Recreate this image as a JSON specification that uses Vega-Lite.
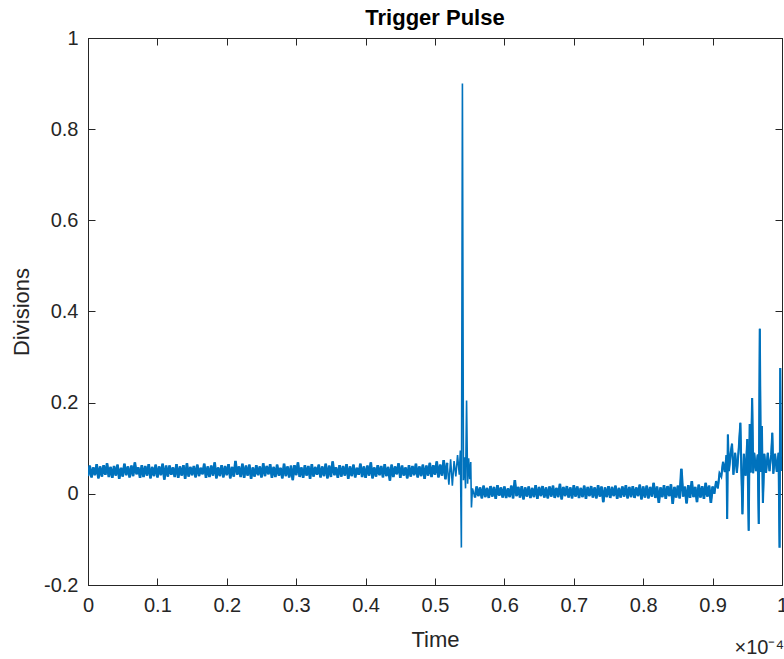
{
"$schema": "https://vega.github.io/schema/vega-lite/v6.json",
"width": 694, "height": 547,
"autosize": {"type": "none"},
"padding": {"left": 88, "top": 38, "right": 2, "bottom": 74},
"background": "white",
"config": {
  "font": "Liberation Sans",
  "view": {"stroke": "#262626", "strokeWidth": 1},
  "axis": {"grid": false, "domainColor": "#262626", "tickColor": "#262626", "labelColor": "#262626", "titleColor": "#262626", "labelFontSize": 20, "titleFontSize": 22, "titleFontWeight": "normal", "tickSize": -7, "labelFont": "Liberation Sans", "titleFont": "Liberation Sans"}
},
"title": {"text": "Trigger Pulse", "fontSize": 22, "fontWeight": "bold", "color": "#000000", "offset": -2, "font": "Liberation Sans"},
"data": {"values": [
{"t":0,"v":0.039},{"t":0.0025,"v":0.062},{"t":0.005,"v":0.036},{"t":0.0075,"v":0.058},{"t":0.01,"v":0.041},{"t":0.0125,"v":0.065},{"t":0.015,"v":0.034},{"t":0.0175,"v":0.06},{"t":0.02,"v":0.038},{"t":0.0225,"v":0.063},
{"t":0.025,"v":0.042},{"t":0.0275,"v":0.067},{"t":0.03,"v":0.037},{"t":0.0325,"v":0.059},{"t":0.035,"v":0.035},{"t":0.0375,"v":0.061},{"t":0.04,"v":0.04},{"t":0.0425,"v":0.064},{"t":0.045,"v":0.033},{"t":0.0475,"v":0.057},
{"t":0.05,"v":0.038},{"t":0.0525,"v":0.066},{"t":0.055,"v":0.041},{"t":0.0575,"v":0.06},{"t":0.06,"v":0.036},{"t":0.0625,"v":0.062},{"t":0.065,"v":0.039},{"t":0.0675,"v":0.069},{"t":0.07,"v":0.043},{"t":0.0725,"v":0.058},
{"t":0.075,"v":0.035},{"t":0.0775,"v":0.063},{"t":0.08,"v":0.037},{"t":0.0825,"v":0.061},{"t":0.085,"v":0.04},{"t":0.0875,"v":0.065},{"t":0.09,"v":0.034},{"t":0.0925,"v":0.059},{"t":0.095,"v":0.039},{"t":0.0975,"v":0.064},
{"t":0.1,"v":0.036},{"t":0.1025,"v":0.06},{"t":0.105,"v":0.041},{"t":0.1075,"v":0.066},{"t":0.11,"v":0.031},{"t":0.1125,"v":0.062},{"t":0.115,"v":0.038},{"t":0.1175,"v":0.062},{"t":0.12,"v":0.042},{"t":0.1225,"v":0.058},
{"t":0.125,"v":0.037},{"t":0.1275,"v":0.065},{"t":0.13,"v":0.035},{"t":0.1325,"v":0.06},{"t":0.135,"v":0.04},{"t":0.1375,"v":0.063},{"t":0.14,"v":0.033},{"t":0.1425,"v":0.067},{"t":0.145,"v":0.038},{"t":0.1475,"v":0.059},
{"t":0.15,"v":0.041},{"t":0.1525,"v":0.061},{"t":0.155,"v":0.036},{"t":0.1575,"v":0.064},{"t":0.16,"v":0.039},{"t":0.1625,"v":0.057},{"t":0.165,"v":0.043},{"t":0.1675,"v":0.066},{"t":0.17,"v":0.035},{"t":0.1725,"v":0.06},
{"t":0.175,"v":0.037},{"t":0.1775,"v":0.062},{"t":0.18,"v":0.04},{"t":0.1825,"v":0.069},{"t":0.185,"v":0.034},{"t":0.1875,"v":0.058},{"t":0.19,"v":0.039},{"t":0.1925,"v":0.063},{"t":0.195,"v":0.036},{"t":0.1975,"v":0.061},
{"t":0.2,"v":0.041},{"t":0.2025,"v":0.065},{"t":0.205,"v":0.034},{"t":0.2075,"v":0.059},{"t":0.21,"v":0.038},{"t":0.2125,"v":0.072},{"t":0.215,"v":0.042},{"t":0.2175,"v":0.06},{"t":0.22,"v":0.037},{"t":0.2225,"v":0.066},
{"t":0.225,"v":0.035},{"t":0.2275,"v":0.062},{"t":0.23,"v":0.04},{"t":0.2325,"v":0.064},{"t":0.235,"v":0.033},{"t":0.2375,"v":0.058},{"t":0.24,"v":0.038},{"t":0.2425,"v":0.063},{"t":0.245,"v":0.041},{"t":0.2475,"v":0.06},
{"t":0.25,"v":0.036},{"t":0.2525,"v":0.067},{"t":0.255,"v":0.039},{"t":0.2575,"v":0.061},{"t":0.26,"v":0.043},{"t":0.2625,"v":0.065},{"t":0.265,"v":0.035},{"t":0.2675,"v":0.059},{"t":0.27,"v":0.037},{"t":0.2725,"v":0.064},
{"t":0.275,"v":0.04},{"t":0.2775,"v":0.057},{"t":0.28,"v":0.034},{"t":0.2825,"v":0.066},{"t":0.285,"v":0.039},{"t":0.2875,"v":0.06},{"t":0.29,"v":0.036},{"t":0.2925,"v":0.062},{"t":0.295,"v":0.03},{"t":0.2975,"v":0.063},
{"t":0.3,"v":0.041},{"t":0.3025,"v":0.069},{"t":0.305,"v":0.037},{"t":0.3075,"v":0.058},{"t":0.31,"v":0.035},{"t":0.3125,"v":0.063},{"t":0.315,"v":0.04},{"t":0.3175,"v":0.061},{"t":0.32,"v":0.033},{"t":0.3225,"v":0.065},
{"t":0.325,"v":0.038},{"t":0.3275,"v":0.059},{"t":0.33,"v":0.042},{"t":0.3325,"v":0.064},{"t":0.335,"v":0.036},{"t":0.3375,"v":0.06},{"t":0.34,"v":0.039},{"t":0.3425,"v":0.066},{"t":0.345,"v":0.034},{"t":0.3475,"v":0.062},
{"t":0.35,"v":0.037},{"t":0.3525,"v":0.071},{"t":0.355,"v":0.041},{"t":0.3575,"v":0.058},{"t":0.36,"v":0.035},{"t":0.3625,"v":0.063},{"t":0.365,"v":0.038},{"t":0.3675,"v":0.061},{"t":0.37,"v":0.04},{"t":0.3725,"v":0.065},
{"t":0.375,"v":0.033},{"t":0.3775,"v":0.06},{"t":0.38,"v":0.039},{"t":0.3825,"v":0.064},{"t":0.385,"v":0.036},{"t":0.3875,"v":0.057},{"t":0.39,"v":0.042},{"t":0.3925,"v":0.066},{"t":0.395,"v":0.037},{"t":0.3975,"v":0.06},
{"t":0.4,"v":0.035},{"t":0.4025,"v":0.062},{"t":0.405,"v":0.04},{"t":0.4075,"v":0.069},{"t":0.41,"v":0.034},{"t":0.4125,"v":0.058},{"t":0.415,"v":0.038},{"t":0.4175,"v":0.063},{"t":0.42,"v":0.041},{"t":0.4225,"v":0.061},
{"t":0.425,"v":0.036},{"t":0.4275,"v":0.065},{"t":0.43,"v":0.039},{"t":0.4325,"v":0.059},{"t":0.435,"v":0.029},{"t":0.4375,"v":0.064},{"t":0.44,"v":0.037},{"t":0.4425,"v":0.06},{"t":0.445,"v":0.043},{"t":0.4475,"v":0.067},
{"t":0.45,"v":0.035},{"t":0.4525,"v":0.062},{"t":0.455,"v":0.04},{"t":0.4575,"v":0.058},{"t":0.46,"v":0.034},{"t":0.4625,"v":0.063},{"t":0.465,"v":0.038},{"t":0.4675,"v":0.061},{"t":0.47,"v":0.041},{"t":0.4725,"v":0.066},
{"t":0.475,"v":0.036},{"t":0.4775,"v":0.06},{"t":0.48,"v":0.039},{"t":0.4825,"v":0.064},{"t":0.485,"v":0.033},{"t":0.4875,"v":0.062},{"t":0.49,"v":0.04},{"t":0.4925,"v":0.068},{"t":0.495,"v":0.037},{"t":0.4975,"v":0.063},
{"t":0.5,"v":0.042},{"t":0.5025,"v":0.071},{"t":0.505,"v":0.036},{"t":0.5075,"v":0.064},{"t":0.51,"v":0.04},{"t":0.5125,"v":0.074},{"t":0.515,"v":0.032},{"t":0.5175,"v":0.068},{"t":0.52,"v":0.02},{"t":0.5225,"v":0.076},
{"t":0.525,"v":0.018},{"t":0.5275,"v":0.072},{"t":0.53,"v":0.038},{"t":0.5325,"v":0.085},{"t":0.535,"v":0.042},{"t":0.5365,"v":0.095},{"t":0.538,"v":-0.118},{"t":0.5395,"v":0.9},{"t":0.541,"v":0.03},{"t":0.5425,"v":0.08},
{"t":0.544,"v":0.012},{"t":0.5455,"v":0.205},{"t":0.547,"v":0.022},{"t":0.5485,"v":0.078},{"t":0.55,"v":0.032},{"t":0.5515,"v":0.07},{"t":0.5525,"v":-0.03},{"t":0.554,"v":0.012},
{"t":0.5575,"v":-0.008},{"t":0.56,"v":0.016},{"t":0.5625,"v":-0.005},{"t":0.565,"v":0.014},{"t":0.5675,"v":-0.01},{"t":0.57,"v":0.018},{"t":0.5725,"v":-0.007},{"t":0.575,"v":0.013},{"t":0.5775,"v":-0.009},{"t":0.58,"v":0.017},
{"t":0.5825,"v":-0.006},{"t":0.585,"v":0.015},{"t":0.5875,"v":-0.011},{"t":0.59,"v":0.019},{"t":0.5925,"v":-0.004},{"t":0.595,"v":0.014},{"t":0.5975,"v":-0.008},{"t":0.6,"v":0.016},{"t":0.6025,"v":-0.009},{"t":0.605,"v":0.012},
{"t":0.6075,"v":-0.007},{"t":0.61,"v":0.018},{"t":0.6125,"v":-0.01},{"t":0.615,"v":0.03},{"t":0.6175,"v":-0.005},{"t":0.62,"v":0.015},{"t":0.6225,"v":-0.008},{"t":0.625,"v":0.017},{"t":0.6275,"v":-0.012},{"t":0.63,"v":0.014},
{"t":0.6325,"v":-0.006},{"t":0.635,"v":0.016},{"t":0.6375,"v":-0.009},{"t":0.64,"v":0.013},{"t":0.6425,"v":-0.007},{"t":0.645,"v":0.019},{"t":0.6475,"v":-0.011},{"t":0.65,"v":0.015},{"t":0.6525,"v":-0.005},{"t":0.655,"v":0.017},
{"t":0.6575,"v":-0.008},{"t":0.66,"v":0.014},{"t":0.6625,"v":-0.01},{"t":0.665,"v":0.016},{"t":0.6675,"v":-0.006},{"t":0.67,"v":0.018},{"t":0.6725,"v":-0.009},{"t":0.675,"v":0.013},{"t":0.6775,"v":-0.007},{"t":0.68,"v":0.022},
{"t":0.6825,"v":-0.012},{"t":0.685,"v":0.015},{"t":0.6875,"v":-0.005},{"t":0.69,"v":0.017},{"t":0.6925,"v":-0.008},{"t":0.695,"v":0.014},{"t":0.6975,"v":-0.01},{"t":0.7,"v":0.019},{"t":0.7025,"v":-0.006},{"t":0.705,"v":0.016},
{"t":0.7075,"v":-0.009},{"t":0.71,"v":0.013},{"t":0.7125,"v":-0.007},{"t":0.715,"v":0.018},{"t":0.7175,"v":-0.011},{"t":0.72,"v":0.015},{"t":0.7225,"v":-0.005},{"t":0.725,"v":0.017},{"t":0.7275,"v":-0.008},{"t":0.73,"v":0.014},
{"t":0.7325,"v":-0.01},{"t":0.735,"v":0.019},{"t":0.7375,"v":-0.006},{"t":0.74,"v":0.016},{"t":0.7425,"v":-0.018},{"t":0.745,"v":0.014},{"t":0.7475,"v":-0.007},{"t":0.75,"v":0.017},{"t":0.7525,"v":-0.009},{"t":0.755,"v":0.015},
{"t":0.7575,"v":-0.005},{"t":0.76,"v":0.018},{"t":0.7625,"v":-0.011},{"t":0.765,"v":0.013},{"t":0.7675,"v":-0.008},{"t":0.77,"v":0.016},{"t":0.7725,"v":-0.006},{"t":0.775,"v":0.019},{"t":0.7775,"v":-0.01},{"t":0.78,"v":0.015},
{"t":0.7825,"v":-0.007},{"t":0.785,"v":0.017},{"t":0.7875,"v":-0.009},{"t":0.79,"v":0.014},{"t":0.7925,"v":-0.005},{"t":0.795,"v":0.02},{"t":0.7975,"v":-0.012},{"t":0.8,"v":0.016},{"t":0.8025,"v":-0.008},{"t":0.805,"v":0.018},
{"t":0.8075,"v":-0.01},{"t":0.81,"v":0.015},{"t":0.8125,"v":-0.006},{"t":0.815,"v":0.024},{"t":0.8175,"v":-0.009},{"t":0.82,"v":0.016},{"t":0.8225,"v":-0.02},{"t":0.825,"v":0.014},{"t":0.8275,"v":-0.007},{"t":0.83,"v":0.019},
{"t":0.8325,"v":-0.011},{"t":0.835,"v":0.017},{"t":0.8375,"v":-0.005},{"t":0.84,"v":0.021},{"t":0.8425,"v":-0.022},{"t":0.845,"v":0.015},{"t":0.8475,"v":-0.008},{"t":0.85,"v":0.018},{"t":0.8525,"v":-0.01},{"t":0.855,"v":0.055},
{"t":0.8575,"v":-0.006},{"t":0.86,"v":0.016},{"t":0.8625,"v":-0.021},{"t":0.865,"v":0.019},{"t":0.8675,"v":-0.009},{"t":0.87,"v":0.028},{"t":0.8725,"v":-0.007},{"t":0.875,"v":0.015},{"t":0.8775,"v":-0.018},{"t":0.88,"v":0.02},
{"t":0.8825,"v":-0.008},{"t":0.885,"v":0.017},{"t":0.8875,"v":-0.011},{"t":0.89,"v":0.024},{"t":0.8925,"v":-0.006},{"t":0.895,"v":0.018},{"t":0.8975,"v":-0.02},{"t":0.9,"v":0.016},
{"t":0.9025,"v":0.0},{"t":0.905,"v":0.028},{"t":0.9075,"v":0.012},{"t":0.91,"v":0.045},{"t":0.9125,"v":0.038},{"t":0.915,"v":0.07},
{"t":0.9175,"v":0.048},{"t":0.92,"v":0.085},{"t":0.921,"v":-0.055},{"t":0.922,"v":0.13},{"t":0.9235,"v":0.05},{"t":0.926,"v":0.088},{"t":0.928,"v":0.11},{"t":0.93,"v":0.042},{"t":0.9325,"v":0.09},{"t":0.935,"v":0.046},
{"t":0.9375,"v":0.095},{"t":0.94,"v":0.156},{"t":0.9415,"v":0.05},{"t":0.943,"v":-0.045},{"t":0.945,"v":0.088},{"t":0.9475,"v":0.04},{"t":0.95,"v":0.12},{"t":0.952,"v":-0.081},{"t":0.9535,"v":0.153},{"t":0.955,"v":0.047},
{"t":0.957,"v":0.21},{"t":0.9585,"v":0.045},{"t":0.96,"v":0.09},{"t":0.9625,"v":0.05},{"t":0.965,"v":0.086},{"t":0.9665,"v":-0.066},{"t":0.968,"v":0.362},{"t":0.9695,"v":0.048},{"t":0.971,"v":0.149},{"t":0.9725,"v":-0.02},
{"t":0.9745,"v":0.088},{"t":0.977,"v":0.046},{"t":0.9795,"v":0.09},{"t":0.982,"v":0.05},{"t":0.9845,"v":0.086},{"t":0.986,"v":0.134},{"t":0.9875,"v":0.044},{"t":0.99,"v":0.088},{"t":0.9925,"v":0.048},{"t":0.995,"v":0.09},
{"t":0.9965,"v":-0.118},{"t":0.9975,"v":0.276},{"t":0.9985,"v":0.05},{"t":1.0,"v":0.08}
]},
"layer": [
  {
    "transform": [{"filter": {"field": "t", "lte": 0.5175}}],
    "mark": {"type": "line", "color": "#0072BD", "strokeWidth": 2.6, "clip": true},
    "encoding": {
      "x": {"field": "t", "type": "quantitative", "axis": null},
      "y": {"field": "v", "type": "quantitative", "axis": null}
    }
  },
  {
    "transform": [{"filter": {"field": "t", "range": [0.5575, 0.9]}}],
    "mark": {"type": "line", "color": "#0072BD", "strokeWidth": 2.6, "clip": true},
    "encoding": {
      "x": {"field": "t", "type": "quantitative", "axis": null},
      "y": {"field": "v", "type": "quantitative", "axis": null}
    }
  },
  {
    "transform": [{"filter": {"field": "t", "gte": 0.9}}],
    "mark": {"type": "line", "color": "#0072BD", "strokeWidth": 2.1, "clip": true},
    "encoding": {
      "x": {"field": "t", "type": "quantitative", "axis": null},
      "y": {"field": "v", "type": "quantitative", "axis": null}
    }
  },
  {
    "mark": {"type": "line", "color": "#0072BD", "strokeWidth": 1.6, "clip": true},
    "encoding": {
      "x": {"field": "t", "type": "quantitative", "scale": {"domain": [0, 1], "nice": false, "zero": false},
            "axis": {"orient": "bottom", "title": "Time", "values": [0,0.1,0.2,0.3,0.4,0.5,0.6,0.7,0.8,0.9,1], "labelExpr": "'' + datum.value", "labelPadding": 17, "titlePadding": 14, "labelFlush": false, "labelOverlap": false}},
      "y": {"field": "v", "type": "quantitative", "scale": {"domain": [-0.2, 1], "nice": false, "zero": false},
            "axis": {"orient": "left", "title": "Divisions", "values": [-0.2,0,0.2,0.4,0.6,0.8,1], "labelExpr": "'' + datum.value", "labelPadding": 17, "titlePadding": 10, "labelFlush": false, "labelOverlap": false}}
    }
  },
  {
    "mark": {"type": "line", "opacity": 0},
    "encoding": {
      "x": {"field": "t", "type": "quantitative", "axis": {"orient": "top", "title": null, "labels": false, "values": [0,0.1,0.2,0.3,0.4,0.5,0.6,0.7,0.8,0.9,1]}},
      "y": {"field": "v", "type": "quantitative", "axis": {"orient": "right", "title": null, "labels": false, "values": [-0.2,0,0.2,0.4,0.6,0.8,1]}}
    }
  },
  {
    "data": {"values": [{"t": 1, "v": -0.2, "label": "×10⁻⁴"}]},
    "mark": {"type": "text", "align": "right", "baseline": "middle", "dx": 2, "dy": 63, "fontSize": 20, "color": "#262626", "clip": false},
    "encoding": {
      "x": {"field": "t", "type": "quantitative", "axis": null},
      "y": {"field": "v", "type": "quantitative", "axis": null},
      "text": {"field": "label"}
    }
  }
]
}
